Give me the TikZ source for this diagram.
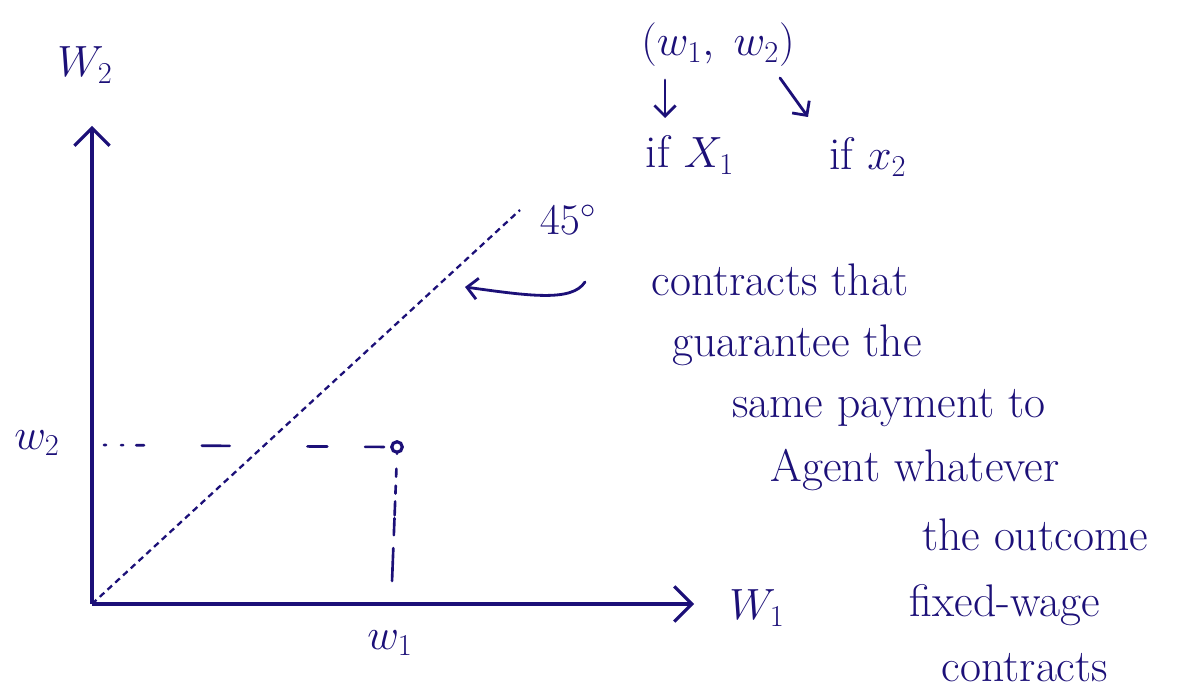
\documentclass[tikz,border=0pt]{standalone}
\usetikzlibrary{arrows.meta}
\definecolor{ink}{RGB}{28,16,120}
\begin{document}
\begin{tikzpicture}[x=0.02cm,y=-0.02cm,
  every node/.style={text=ink, font=\fontsize{26}{30}\selectfont, inner sep=0pt},
  axis/.style={draw=ink, line width=1.8pt, -{Straight Barb[length=10pt,width=20pt,line width=1.8pt]}},
  guide/.style={draw=ink, line width=1.5pt, line cap=round},
  diag/.style={draw=ink, line width=1.3pt, dash pattern=on 3.5pt off 2.5pt},
  note/.style={draw=ink, line width=1.6pt, line cap=round, -{Straight Barb[length=6pt,width=12pt,line width=1.6pt]}},
  lbl/.style={anchor=center}]
\useasboundingbox (0,0) rectangle (1181,699);
\coordinate (O) at (92,604);
\coordinate (Ytop) at (92,126);
\coordinate (Xend) at (694,604);
\coordinate (D) at (520,210);
\coordinate (H0) at (104,445);
\coordinate (V1) at (392,582);
\node[circle, draw=ink, line width=1.8pt, minimum size=6pt, inner sep=0pt] (P) at (397,447) {};
\draw[axis] (O) -- (Ytop);
\draw[axis] (O) -- (Xend);
\draw[diag] (O) -- (D);
\draw[guide, dash pattern=on 1.2pt off 8.5pt on 1.2pt off 7.4pt on 4.5pt off 32.9pt on 15.9pt off 44.2pt on 11.3pt off 21.5pt on 10.8pt off 20pt] (H0) -- (P.west);
\draw[guide, dash pattern=on 0pt off 8.5pt on 4.5pt off 5.1pt on 4.5pt off 4.5pt on 7.9pt off 1.7pt on 9.6pt off 7.4pt on 18.7pt off 20pt] (P.south) -- (V1);
\node[lbl] (W2) at (85,65) {$W_2$};
\node[lbl] (W1) at (757,608) {$W_1$};
\node[lbl] (w2) at (37,443) {$w_2$};
\node[lbl] (w1) at (390,643) {$w_1$};
\node[lbl] (deg) at (568,220) {$45^\circ$};
\node[lbl] (pair) at (718,45) {$(w_1,\; w_2)$};
\node[lbl] (ifx1) at (690,155) {if $X_1$};
\node[lbl] (ifx2) at (868,157) {if $x_2$};
\draw[note] (665,80) -- (665,118);
\draw[note] (780,78) -- (808,117);
\coordinate (cs) at (585,282);
\coordinate (ce) at (465,287);
\draw[note] (cs) .. controls (572,302) and (530,296) .. (ce);
\node[lbl] (t1) at (780,280) {contracts that};
\node[lbl] (t2) at (797,345) {guarantee the};
\node[lbl] (t3) at (889,408) {same payment to};
\node[lbl] (t4) at (915,470) {Agent whatever};
\node[lbl] (t5) at (1035,535) {the outcome};
\node[lbl] (t6) at (1005,605) {fixed-wage};
\node[lbl] (t7) at (1025,668) {contracts};
\end{tikzpicture}
\end{document}
